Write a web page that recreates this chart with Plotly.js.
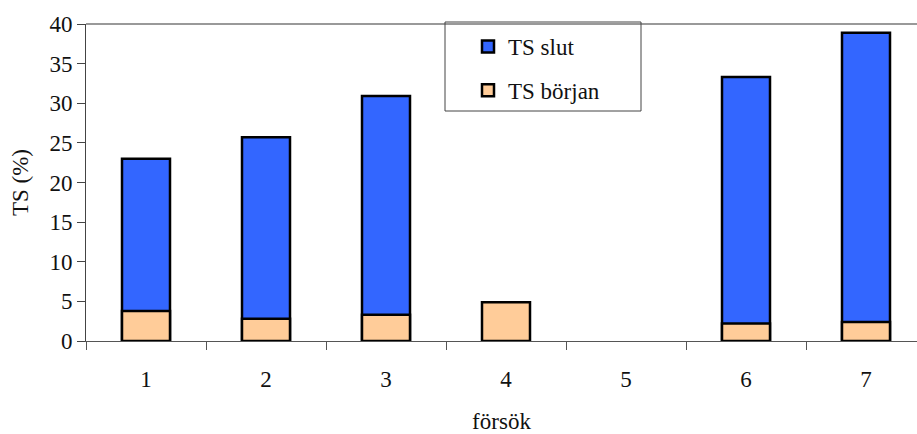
<!DOCTYPE html>
<html>
<head>
<meta charset="utf-8">
<script src="https://cdn.plot.ly/plotly-3.0.1.min.js"></script>
<style>html,body{margin:0;padding:0;background:#fff;}#chart{width:917px;height:434px;}</style>
</head>
<body>
<div id="chart"></div>
<script>
const categories = ["1", "2", "3", "4", "5", "6", "7"];
const tsSlut = [23.0, 25.7, 30.9, null, null, 33.3, 38.9];
const tsBorjan = [3.8, 2.8, 3.3, 4.9, null, 2.2, 2.4];
const yTicks = [0, 5, 10, 15, 20, 25, 30, 35, 40];

const L = 86, T = 24, W = 831, H = 317;
const px = x => (x - L) / W;
const py = y => (T + H - y) / H;
const FONT = '"Liberation Serif", "Times New Roman", serif';

const traces = [
  {type: 'bar', name: 'TS slut', x: categories, y: tsSlut, width: 0.4,
   marker: {color: '#3366FF', line: {color: '#000', width: 2.5}}, legendgroup: 'a'},
  {type: 'bar', name: 'TS början', x: categories, y: tsBorjan, width: 0.4,
   marker: {color: '#FFCC99', line: {color: '#000', width: 2.5}}, legendgroup: 'b'}
];

const layout = {
  width: 917, height: 434,
  margin: {l: L, r: 0, t: T, b: 434 - T - H, pad: 0},
  paper_bgcolor: '#fff', plot_bgcolor: '#fff',
  font: {family: FONT, size: 23, color: '#111'},
  barmode: 'overlay',
  showlegend: true,
  legend: {x: px(468), xanchor: 'left', y: py(25), yanchor: 'top',
           bgcolor: 'rgba(0,0,0,0)', borderwidth: 0, tracegroupgap: 11,
           font: {family: FONT, size: 23}},
  xaxis: {type: 'category', range: [-0.5, 6.425], tickson: 'boundaries',
          ticks: 'outside', ticklen: 8, tickcolor: '#555', tickwidth: 1,
          showline: true, linecolor: '#555', linewidth: 1, showgrid: false,
          zeroline: false, fixedrange: true, ticklabelstandoff: 17,
          tickfont: {family: FONT, size: 23},
          title: {text: 'försök', standoff: 26, font: {family: FONT, size: 23}}},
  yaxis: {range: [0, 40], tickvals: yTicks, ticks: 'outside', ticklen: 8,
          tickcolor: '#444', showline: true, linecolor: '#444', linewidth: 1,
          showgrid: false, zeroline: false, fixedrange: true,
          tickfont: {family: FONT, size: 23},
          title: {text: 'TS (%)', standoff: 14, font: {family: FONT, size: 23}}},
  shapes: [
    {type: 'line', xref: 'paper', yref: 'paper', x0: 0, x1: 1, y0: 1, y1: 1,
     line: {color: '#999', width: 2}},
    {type: 'rect', xref: 'paper', yref: 'paper', x0: px(445), x1: px(641), y0: py(22), y1: py(111),
     line: {color: '#444', width: 1}, fillcolor: 'rgba(255,255,255,0)', layer: 'above'}
  ]
};

Plotly.newPlot('chart', traces, layout, {staticPlot: true, displayModeBar: false});
</script>
</body>
</html>
